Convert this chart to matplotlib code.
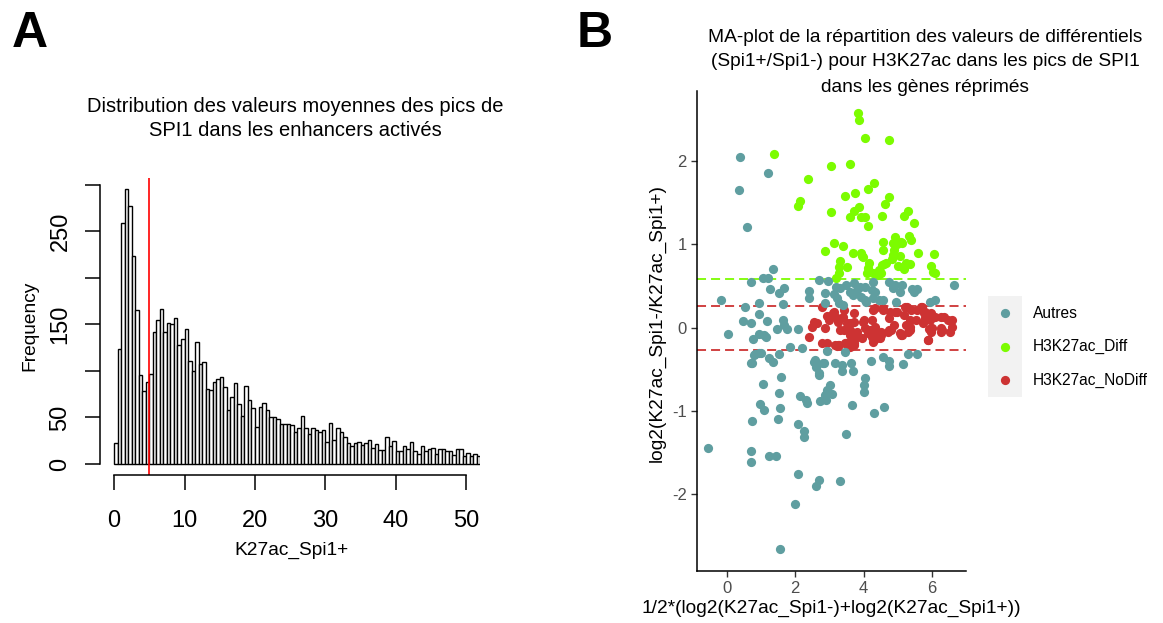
import numpy as np
import matplotlib
matplotlib.use("Agg")
import matplotlib.pyplot as plt
from matplotlib.patches import Rectangle

plt.rcParams['font.family'] = ['Liberation Sans', 'DejaVu Sans']
plt.rcParams['lines.scale_dashes'] = False
plt.rcParams['axes.unicode_minus'] = False

# ---------------- Panel A data: histogram (bin width 0.5) ----------------
hist_bin_width = 0.5
hist_counts = [23, 124, 259, 296, 277, 224, 166, 96, 79, 88,
               97, 142, 155, 167, 142, 152, 150, 157, 128, 134,
               145, 111, 100, 131, 107, 110, 81, 80, 88, 91,
               94, 83, 58, 72, 87, 65, 52, 84, 69, 60,
               40, 61, 66, 58, 50, 50, 48, 43, 43, 43,
               42, 34, 39, 52, 39, 32, 39, 37, 34, 37,
               24, 44, 26, 39, 34, 29, 23, 19, 23, 24,
               20, 23, 26, 17, 22, 15, 15, 29, 19, 25,
               14, 14, 19, 16, 24, 14, 11, 19, 14, 16,
               17, 11, 16, 16, 14, 14, 10, 16, 16, 9,
               12, 9, 11, 9]
hist_threshold = 5
hist_xticks = [0, 10, 20, 30, 40, 50]
hist_yticks = [0, 50, 100, 150, 200, 250, 300]
hist_yticklabels = ['0', '50', '', '150', '', '250', '']

# ---------------- Panel B data: MA-plot ----------------
autres_x = [0.40, 0.37, 1.20, 0.59, 1.36, 1.06, 1.20, 0.71, 1.27, 1.66, 1.53, -0.17,
            0.93, 0.52, 1.64, 0.95, 0.49, 0.71, 1.17, 1.64, 1.66, 1.77, 1.46, 2.07, 0.05,
            0.93, 1.08, 0.76, 1.85, 2.21, 2.41, 2.41, 2.70, 2.97, 2.88, 2.87,
            3.19, 3.32, 3.14, 3.22, 3.29, 3.39, 3.59, 3.70, 3.80, 3.73, 3.90, 4.05,
            4.27, 4.24, 3.49, 3.93, 4.08, 4.05, 4.29, 4.44, 4.58, 4.34, 4.73, 4.93,
            5.07, 5.12, 4.86, 4.95, 5.41, 5.56, 5.48, 5.95, 6.08, 6.65,
            2.93, 3.46, 2.58, 2.63, 2.83, 3.17, 3.37, 3.37, 3.64, 3.68, 2.71, 4.22,
            4.58, 4.75, 4.75, 5.14, 5.30, 5.57, 4.03, 4.00, 4.00, 3.02, 2.94, 2.88,
            2.73, 2.90, 3.09, 3.67, 4.31, 4.60, 2.15, 2.31, 2.34, 2.08, 2.27, 2.27,
            3.49, 0.72, 1.24, 1.36, 1.54, 0.83, 0.99, 1.58, 1.05, 1.53, 0.97, 1.10,
            1.56, 0.73, 1.51, -0.54, 0.72, 0.71, 1.24, 1.44, 2.08, 2.71, 2.60, 3.32,
            2.00, 1.57, 0.81, 0.95, 0.73, 2.56, 2.81, 2.71, 2.61, 1.15]
autres_y = [2.05, 1.65, 1.85, 1.21, 0.70, 0.59, 0.60, 0.55, 0.46, 0.48, 0.42, 0.33,
            0.29, 0.25, 0.28, 0.16, 0.08, 0.06, 0.08, 0.09, 0.03, -0.02, -0.02, -0.02, -0.08,
            -0.08, -0.09, -0.14, -0.23, -0.24, 0.44, 0.36, 0.57, 0.56, 0.42, 0.30,
            0.49, 0.47, 0.40, 0.35, 0.29, 0.27, 0.43, 0.39, 0.45, 0.54, 0.49, 0.49,
            0.55, 0.45, 0.51, 0.37, 0.31, 0.33, 0.35, 0.33, 0.33, 0.43, 0.55, 0.51,
            0.43, 0.51, 0.47, 0.31, 0.46, 0.46, 0.43, 0.31, 0.33, 0.51,
            -0.28, -0.29, -0.39, -0.45, -0.43, -0.42, -0.45, -0.52, -0.42, -0.52, -0.57, -0.40,
            -0.35, -0.40, -0.46, -0.44, -0.32, -0.32, -0.60, -0.69, -0.77, -0.69, -0.75, -0.81,
            -0.88, -0.87, -0.80, -0.93, -1.03, -0.95, -0.82, -0.87, -0.90, -1.16, -1.24, -1.31,
            -1.28, -0.42, -0.37, -0.41, -0.32, -0.32, -0.30, -0.59, -0.68, -0.79, -0.92, -0.99,
            -0.96, -1.12, -1.10, -1.45, -1.48, -1.61, -1.54, -1.54, -1.76, -1.83, -1.90, -1.84,
            -2.12, -2.66, -0.33, -0.30, -0.43, -0.41, -0.43, -0.55, -0.47, -0.11]

diff_x = [3.83, 3.87, 4.03, 4.75, 1.38, 3.04, 3.59, 2.38, 4.30, 4.13, 3.75, 3.46,
          4.75, 2.15, 2.08, 4.63, 3.86, 3.04, 3.71, 3.59, 3.92, 4.05, 4.54, 5.31,
          5.18, 4.14, 5.48, 4.92, 4.57, 5.34, 5.38, 5.11, 3.14, 3.39, 2.87, 3.69,
          3.92, 4.58, 4.89, 4.98, 5.60, 6.05, 3.98, 5.07, 4.83, 3.32, 4.17, 4.54,
          4.66, 5.02, 5.25, 5.36, 5.97, 3.27, 3.51, 4.14, 5.17, 4.46, 6.02, 6.08,
          4.10, 4.50, 3.20, 3.95, 3.27, 4.42, 4.61, 4.86, 5.10, 4.86, 5.15, 4.27]
diff_y = [2.58, 2.49, 2.27, 2.25, 2.08, 1.94, 1.96, 1.78, 1.73, 1.66, 1.61, 1.58,
          1.57, 1.52, 1.46, 1.48, 1.45, 1.39, 1.40, 1.33, 1.33, 1.33, 1.34, 1.40,
          1.34, 1.22, 1.26, 1.09, 1.03, 1.10, 1.05, 1.01, 1.01, 0.98, 0.92, 0.90,
          0.90, 0.93, 0.93, 1.00, 0.90, 0.88, 0.85, 0.86, 0.82, 0.80, 0.78, 0.75,
          0.77, 0.74, 0.77, 0.76, 0.74, 0.73, 0.73, 0.72, 0.70, 0.69, 0.67, 0.66,
          0.65, 0.65, 0.60, 0.86, 0.65, 0.63, 0.76, 1.01, 1.03, 0.87, 0.73, 0.65]

nodiff_x = [2.78, 2.56, 2.49, 2.41, 2.63, 2.88, 2.78, 2.93, 3.12, 3.00, 3.22, 3.41,
            3.30, 3.51, 3.61, 3.59, 3.71, 3.80, 3.75, 3.51, 3.27, 3.66, 4.00, 4.24,
            4.19, 4.34, 4.24, 4.51, 4.49, 4.29, 4.58, 4.78, 4.75, 4.88, 4.97, 5.17,
            5.27, 5.12, 5.36, 5.56, 5.71, 5.76, 5.80, 5.95, 5.90, 6.00, 6.10, 6.34,
            6.29, 6.58, 6.58, 5.87, 5.36, 5.25, 4.73, 3.95, 3.17, 3.61, 2.93, 3.22,
            3.46, 3.71, 5.89, 4.27, 4.34, 3.25, 3.49, 3.73, 3.78, 3.64, 4.13, 4.51,
            4.71, 5.10, 5.30, 5.98, 6.27, 3.15, 3.44, 3.73, 3.98, 4.32, 4.56, 4.91,
            5.20, 5.40, 5.69, 5.79, 5.98, 6.27, 6.47, 3.25, 3.59, 3.44, 3.69, 4.03,
            4.27, 4.47, 4.81, 5.06, 5.35, 5.54, 5.74, 5.98, 6.27, 6.52]
nodiff_y = [0.25, 0.07, 0.01, -0.11, 0.05, 0.00, -0.19, 0.14, 0.17, 0.09, 0.11, 0.13,
            -0.03, 0.05, -0.03, -0.09, 0.07, -0.05, -0.13, -0.19, -0.21, -0.19, 0.09, 0.09,
            -0.03, 0.01, -0.11, -0.05, -0.13, 0.21, 0.23, 0.19, 0.11, 0.03, 0.19, 0.15,
            0.25, -0.09, 0.09, 0.21, 0.25, 0.17, 0.11, 0.09, -0.02, -0.01, 0.13, 0.13,
            -0.03, 0.09, 0.01, -0.15, -0.03, 0.03, -0.03, -0.13, -0.21, -0.23, -0.19, -0.22,
            -0.19, -0.19, -0.15, -0.17, -0.14, -0.21, -0.19, -0.21, -0.11, -0.05, -0.07, -0.09,
            -0.05, -0.09, -0.05, -0.05, -0.05, 0.19, 0.21, 0.17, 0.07, 0.23, 0.21, 0.19,
            0.25, 0.21, 0.25, 0.19, 0.17, 0.13, 0.09, 0.07, 0.05, -0.03, -0.07, -0.01,
            -0.05, -0.11, -0.03, -0.07, 0.01, 0.09, 0.05, -0.03, -0.01, -0.05]

diff_threshold = 0.585
nodiff_threshold = 0.263
ma_xticks = [0, 2, 4, 6]
ma_yticks = [-2, -1, 0, 1, 2]
legend_labels = ['Autres', 'H3K27ac_Diff', 'H3K27ac_NoDiff']
col_autres = '#5F9EA0'
col_diff = '#7CFC00'
col_nodiff = '#CD3333'

# ---------------- Figure ----------------
W, H = 1163, 623
fig = plt.figure(figsize=(W / 100, H / 100), dpi=100)
fig.patch.set_facecolor('white')

# ===== Panel A =====
axA = fig.add_axes([100 / W, 1 - 475 / H, 380.4 / W, 297.3 / H])
edges = np.arange(len(hist_counts)) * hist_bin_width
axA.bar(edges, hist_counts, width=hist_bin_width, align='edge',
        facecolor='white', edgecolor='black', linewidth=1.0)
axA.axvline(hist_threshold, color='red', lw=1.2)
axA.set_xlim(-2, 52)
axA.set_ylim(-11.84, 307.8)
for s in ['top', 'right']:
    axA.spines[s].set_visible(False)
axA.spines['left'].set_bounds(0, 300)
axA.spines['bottom'].set_bounds(0, 50)
axA.spines['left'].set_linewidth(1.1)
axA.spines['bottom'].set_linewidth(1.1)
axA.set_xticks(hist_xticks)
axA.set_xticklabels([str(t) for t in hist_xticks])
axA.set_yticks(hist_yticks)
axA.set_yticklabels(hist_yticklabels, rotation=90, va='center')
axA.tick_params(axis='both', direction='out', length=10.5, width=1.1,
                labelsize=17, colors='black')
axA.tick_params(axis='x', pad=15)
axA.tick_params(axis='y', pad=10)

fig.text(295 / W, 1 - 107 / H, 'Distribution des valeurs moyennes des pics de',
         ha='center', va='center', fontsize=14.5)
fig.text(295 / W, 1 - 131 / H, 'SPI1 dans les enhancers activés',
         ha='center', va='center', fontsize=14.5)
fig.text(291 / W, 1 - 550 / H, 'K27ac_Spi1+', ha='center', va='center', fontsize=13.8)
fig.text(30 / W, 1 - 326 / H, 'Frequency', ha='center', va='center', fontsize=13.8,
         rotation=90)
fig.text(30 / W, 1 - 34 / H, 'A', ha='center', va='center', fontsize=36,
         fontweight='bold')
fig.text(595 / W, 1 - 34 / H, 'B', ha='center', va='center', fontsize=36,
         fontweight='bold')

# ===== Panel B =====
axB = fig.add_axes([696.7 / W, 1 - 571 / H, 269.5 / W, 480 / H])
axB.set_xlim(-0.878, 7.0)
axB.set_ylim(-2.92, 2.84)
ms = 44
axB.axhline(diff_threshold, color=col_diff, lw=1.3, ls=(0, (6.5, 3.6)), zorder=1)
axB.axhline(nodiff_threshold, color=col_nodiff, lw=1.3, ls=(0, (6.5, 3.6)), zorder=1)
axB.axhline(-nodiff_threshold, color=col_nodiff, lw=1.3, ls=(0, (6.5, 3.6)), zorder=1)
axB.scatter(diff_x, diff_y, s=ms, color=col_diff, linewidths=0, zorder=2)
axB.scatter(nodiff_x, nodiff_y, s=ms, color=col_nodiff, linewidths=0, zorder=2)
axB.scatter(autres_x, autres_y, s=ms, color=col_autres, linewidths=0, zorder=2)
for s in ['top', 'right']:
    axB.spines[s].set_visible(False)
axB.spines['left'].set_linewidth(1.1)
axB.spines['bottom'].set_linewidth(1.1)
axB.set_xticks(ma_xticks)
axB.set_yticks(ma_yticks)
axB.tick_params(axis='both', direction='out', length=4, width=1.0,
                labelsize=12, labelcolor='#4D4D4D', color='#333333', pad=3)

fig.text(925 / W, 1 - 37 / H, 'MA-plot de la répartition des valeurs de différentiels',
         ha='center', va='center', fontsize=13.8)
fig.text(925 / W, 1 - 62 / H, '(Spi1+/Spi1-) pour H3K27ac dans les pics de SPI1',
         ha='center', va='center', fontsize=13.8)
fig.text(925 / W, 1 - 87 / H, 'dans les gènes réprimés',
         ha='center', va='center', fontsize=13.8)
fig.text(831 / W, 1 - 608 / H, '1/2*(log2(K27ac_Spi1-)+log2(K27ac_Spi1+))',
         ha='center', va='center', fontsize=13.8)
fig.text(657 / W, 1 - 323 / H, 'log2(K27ac_Spi1-/K27ac_Spi1+)',
         ha='center', va='center', fontsize=13.8, rotation=90)

# ----- Legend (ggplot style keys) -----
axO = fig.add_axes([0, 0, 1, 1])
axO.set_xlim(0, W)
axO.set_ylim(H, 0)
axO.axis('off')
axO.patch.set_visible(False)
axO.add_patch(Rectangle((988, 296), 34, 101, facecolor='#F2F2F2', edgecolor='none'))
key_y = [313, 346.5, 380]
for lab, col, ky in zip(legend_labels, [col_autres, col_diff, col_nodiff], key_y):
    axO.scatter([1005], [ky], s=ms, color=col, linewidths=0)
    axO.text(1033, ky, lab, ha='left', va='center', fontsize=11.2)

fig.savefig('out.png', dpi=100)
